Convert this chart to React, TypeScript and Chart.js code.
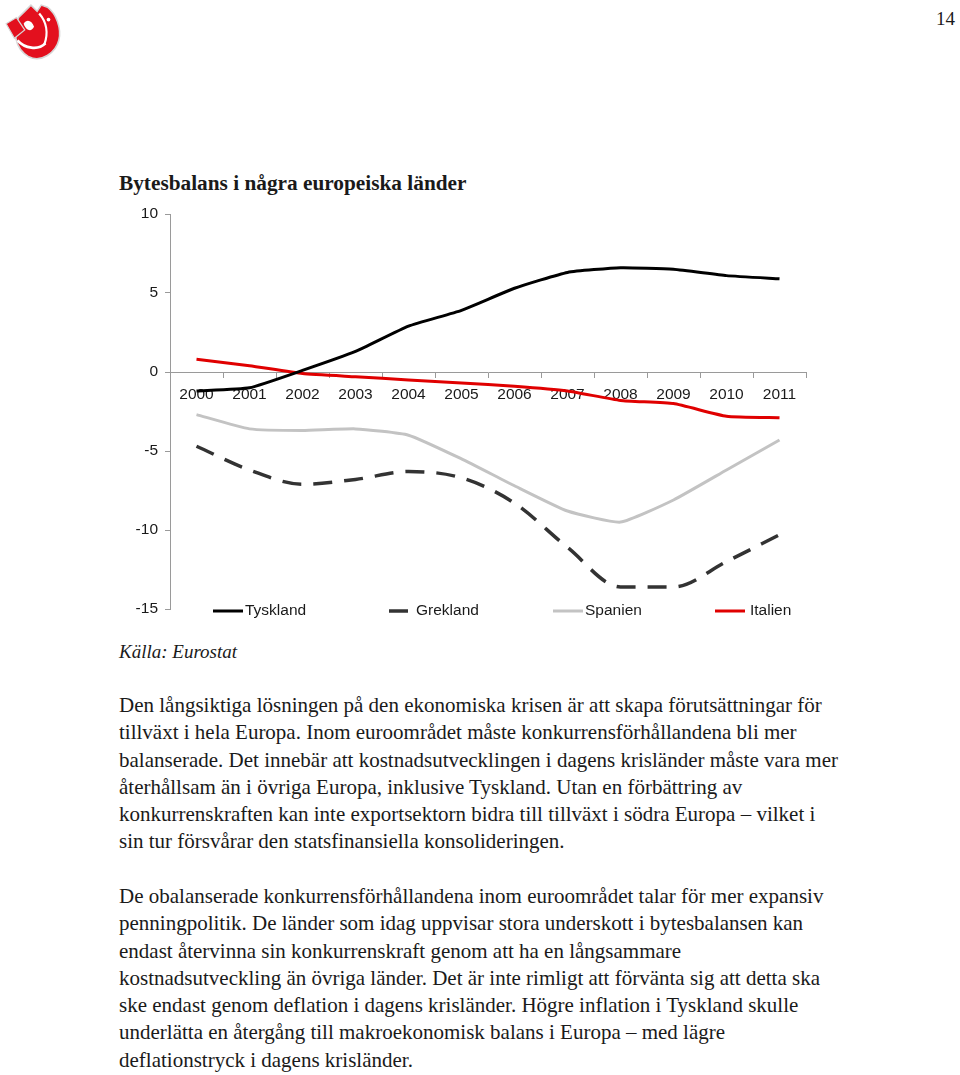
import React, { useEffect, useRef } from "react";
import { Chart, registerables } from "chart.js";

Chart.register(...registerables);

const years = ["2000", "2001", "2002", "2003", "2004", "2005", "2006", "2007", "2008", "2009", "2010", "2011"];
const tyskland = [-1.2, -1.0, 0.1, 1.3, 2.9, 3.9, 5.3, 6.3, 6.6, 6.5, 6.1, 5.9];
const grekland = [-4.7, -6.2, -7.1, -6.8, -6.3, -6.7, -8.3, -11.1, -13.6, -13.6, -12.0, -10.3];
const spanien = [-2.7, -3.6, -3.7, -3.6, -4.0, -5.5, -7.2, -8.8, -9.5, -8.1, -6.2, -4.3];
const italien = [0.8, 0.4, -0.1, -0.3, -0.5, -0.7, -0.9, -1.2, -1.8, -2.0, -2.8, -2.9];
const seriesNames = ["Tyskland", "Grekland", "Spanien", "Italien"];

const paragraph1 = [
  "Den långsiktiga lösningen på den ekonomiska krisen är att skapa förutsättningar för",
  "tillväxt i hela Europa. Inom euroområdet måste konkurrensförhållandena bli mer",
  "balanserade. Det innebär att kostnadsutvecklingen i dagens krisländer måste vara mer",
  "återhållsam än i övriga Europa, inklusive Tyskland. Utan en förbättring av",
  "konkurrenskraften kan inte exportsektorn bidra till tillväxt i södra Europa – vilket i",
  "sin tur försvårar den statsfinansiella konsolideringen.",
];
const paragraph2 = [
  "De obalanserade konkurrensförhållandena inom euroområdet talar för mer expansiv",
  "penningpolitik. De länder som idag uppvisar stora underskott i bytesbalansen kan",
  "endast återvinna sin konkurrenskraft genom att ha en långsammare",
  "kostnadsutveckling än övriga länder. Det är inte rimligt att förvänta sig att detta ska",
  "ske endast genom deflation i dagens krisländer. Högre inflation i Tyskland skulle",
  "underlätta en återgång till makroekonomisk balans i Europa – med lägre",
  "deflationstryck i dagens krisländer.",
];

const SERIF = "'Liberation Serif', 'DejaVu Serif', serif";
const SANS = "'Liberation Sans', Arial, sans-serif";

const legendOffsets = [43, 216, 383, 545];
const legendTextGap = [32, 30, 32, 35];

const bottomLegend = {
  id: "bottomLegend",
  afterDraw(chart: any) {
    const ctx = chart.ctx;
    const area = chart.chartArea;
    const y = chart.scales.y.getPixelForValue(-15) + 2;
    ctx.save();
    chart.data.datasets.forEach((ds: any, i: number) => {
      const x0 = area.left + legendOffsets[i];
      ctx.beginPath();
      ctx.lineWidth = ds.borderWidth;
      ctx.strokeStyle = ds.borderColor;
      ctx.setLineDash(ds.borderDash || []);
      ctx.lineDashOffset = ds.borderDash ? -3 : 0;
      ctx.moveTo(x0, y);
      ctx.lineTo(x0 + 30, y);
      ctx.stroke();
      ctx.setLineDash([]);
      ctx.fillStyle = "#1a1a1a";
      ctx.font = `15.5px ${SANS}`;
      ctx.textBaseline = "middle";
      ctx.textAlign = "left";
      ctx.fillText(ds.label, x0 + legendTextGap[i], y);
    });
    ctx.restore();
  },
};

function ChartBox() {
  const ref = useRef<HTMLCanvasElement>(null);
  useEffect(() => {
    if (!ref.current) return;
    const chart = new Chart(ref.current, {
      type: "line",
      data: {
        labels: years,
        datasets: [
          { label: seriesNames[0], data: tyskland, borderColor: "#000000", borderWidth: 3, tension: 0.15, pointRadius: 0 },
          { label: seriesNames[1], data: grekland, borderColor: "#333333", borderWidth: 3.5, borderDash: [19, 12], cubicInterpolationMode: "monotone", pointRadius: 0 },
          { label: seriesNames[2], data: spanien, borderColor: "#c3c3c3", borderWidth: 3, tension: 0.15, pointRadius: 0 },
          { label: seriesNames[3], data: italien, borderColor: "#e00000", borderWidth: 3, tension: 0.15, pointRadius: 0 },
        ],
      },
      options: {
        responsive: false,
        animation: false,
        layout: { padding: { left: 0, right: 24, top: 19, bottom: 26 } },
        plugins: { legend: { display: false }, tooltip: { enabled: false } },
        scales: {
          x: {
            position: { y: 0 } as any,
            offset: true,
            grid: { offset: true, drawOnChartArea: false, drawTicks: true, tickLength: 5, color: "#9a9a9a" },
            border: { display: true, color: "#9a9a9a", width: 1 },
            ticks: { color: "#1a1a1a", font: { family: SANS, size: 15.5 }, padding: 8, maxRotation: 0, autoSkip: false },
          },
          y: {
            min: -15,
            max: 10,
            afterFit(scale: any) {
              scale.width = 70;
            },
            grid: { drawOnChartArea: false, drawTicks: true, tickLength: 5, color: "#9a9a9a" },
            border: { display: true, color: "#9a9a9a", width: 1 },
            ticks: { stepSize: 5, color: "#1a1a1a", font: { family: SANS, size: 15.5 }, padding: 7 },
          },
        },
      },
      plugins: [bottomLegend],
    });
    return () => chart.destroy();
  }, []);
  return <canvas ref={ref} width={730} height={440} style={{ position: "absolute", left: 100, top: 195, width: 730, height: 440 }} />;
}

function Logo() {
  return (
    <svg width={62} height={62} viewBox="0 0 60 60" style={{ position: "absolute", left: 2, top: 1 }}>
      <path d="M16 16 C 10 28, 12 46, 26 54 C 38 60, 52 50, 55 38 C 58 26, 52 12, 44 6 L 38 4 L 34 10 L 28 4 L 22 10 Z" fill="#e3101e" stroke="#d6d6d6" strokeWidth={1.5} />
      <path d="M4 22 L 14 16 L 22 28 L 12 36 Z" fill="#e3101e" stroke="#d6d6d6" strokeWidth={1.2} />
      <path d="M21 22 C 23 28, 28 31, 31 25 C 29 19, 24 17, 21 22 Z" fill="#ffffff" />
      <path d="M15 38 C 22 46, 35 48, 42 41" fill="none" stroke="#ffffff" strokeWidth={2.6} />
      <path d="M36 12 C 43 20, 45 31, 41 42" fill="none" stroke="#ffffff" strokeWidth={2.2} />
      <circle cx={45} cy={18} r={1.8} fill="#ffffff" />
    </svg>
  );
}

export default function App() {
  const lineStyle: React.CSSProperties = { whiteSpace: "nowrap", height: 27.3, lineHeight: "27.3px" };
  return (
    <div style={{ position: "absolute", left: 0, top: 0, width: 960, height: 1075, background: "#ffffff", color: "#1a1a1a", fontFamily: SERIF, overflow: "hidden" }}>
      <Logo />
      <div style={{ position: "absolute", left: 936, top: 8, fontSize: 19, fontFamily: SERIF }}>14</div>
      <div style={{ position: "absolute", left: 119, top: 171, fontSize: 21.3, fontWeight: "bold", fontFamily: SERIF, whiteSpace: "nowrap" }}>
        Bytesbalans i några europeiska länder
      </div>
      <ChartBox />
      <div style={{ position: "absolute", left: 119, top: 641, fontSize: 19, fontStyle: "italic", fontFamily: SERIF, whiteSpace: "nowrap" }}>
        Källa: Eurostat
      </div>
      <div style={{ position: "absolute", left: 119, top: 692, fontSize: 21, fontFamily: SERIF }}>
        {paragraph1.map((l, i) => (
          <div key={i} style={lineStyle}>{l}</div>
        ))}
      </div>
      <div style={{ position: "absolute", left: 119, top: 883, fontSize: 21, fontFamily: SERIF }}>
        {paragraph2.map((l, i) => (
          <div key={i} style={lineStyle}>{l}</div>
        ))}
      </div>
    </div>
  );
}
